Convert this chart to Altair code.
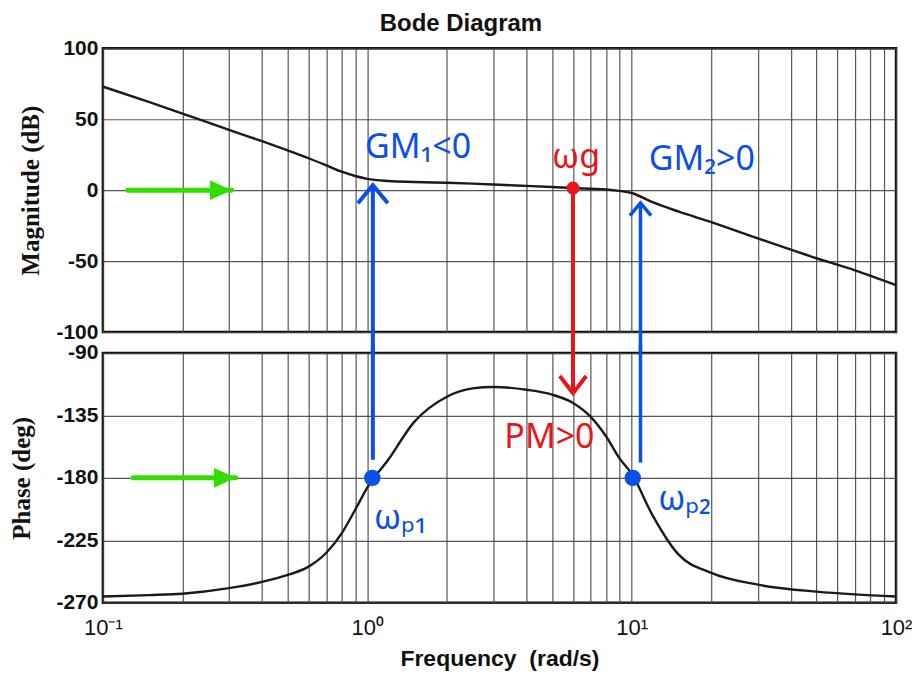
import altair as alt
import pandas as pd

# ---------------- data ----------------
freq = [0.1, 0.15, 0.2, 0.3, 0.4, 0.5, 0.6, 0.7, 0.8, 0.9, 1.0, 1.2, 1.5, 2.0,
        2.5, 3.0, 4.0, 5.0, 6.0, 7.0, 8.0, 9.0, 10.0, 12.0, 15.0, 20.0, 30.0,
        50.0, 70.0, 100.0]
mag_db = [73, 62, 54, 42.5, 34.5, 28, 22.5, 17.5, 13, 10, 8, 6.5, 5.8, 5.2,
          4.6, 4, 3, 2.2, 1.5, 1.0, 0.5, -0.5, -2, -8.5, -15, -22.5, -34,
          -48, -56.6, -67]
phase_deg = [-265.5, -264.5, -263.5, -259.5, -255, -250, -244, -234, -220,
             -203, -187, -167, -140, -121.5, -115.5, -114.5, -116.5, -120,
             -126, -136, -150, -166, -177, -207, -235, -248.5, -257, -262,
             -264, -265.5]

decade_values = [0.1, 1, 10, 100]
decade_labels = ["10\u207b\u00b9", "10\u2070", "10\u00b9", "10\u00b2"]
minor_values = [0.2, 0.3, 0.4, 0.5, 0.6, 0.7, 0.8, 0.9,
                2, 3, 4, 5, 6, 7, 8, 9,
                20, 30, 40, 50, 60, 70, 80, 90]
mag_ticks = [-100, -50, 0, 50, 100]
phase_ticks = [-270, -225, -180, -135, -90]

# annotation values
wp_freq = [1.045, 10.1]
wp_phase = [-180, -180]
wg_freq = [6.0]
wg_mag = [1.5]

arrow1_freq = [1.05]
arrow1_top_mag = [3.5]
arrow1_bottom_phase = [-167]
arrow2_freq = [10.8]
arrow2_top_mag = [-9]
arrow2_bottom_phase = [-169]
red_arrow_tip_phase = [-119]

green_top_x = [0.124, 0.307]
green_top_y = [0, 0]
green_bot_x = [0.13, 0.318]
green_bot_y = [-180, -180]

top_text = ["GM\u2081<0", "\u03c9g", "GM\u2082>0"]
top_text_x = [0.98, 5.0, 11.6]
top_text_y = [30, 23, 21]
top_text_color = ["blue", "red", "blue"]
bot_text = ["PM>0", "\u03c9\u209a\u2081", "\u03c9\u209a\u2082"]
bot_text_x = [3.3, 1.06, 12.6]
bot_text_y = [-151, -210, -196]
bot_text_color = ["red", "blue", "blue"]

BLUE = "#0a4fe6"
RED = "#e8161b"
GREEN = "#33dd00"
GAP_MAG = -116     # just below the magnitude frame (into the gap)
GAP_PHASE = -84    # just above the phase frame (into the gap)

all_x = sorted(minor_values + decade_values)
label_expr = " : ".join(
    f"datum.value == {v} ? '{l}'" for v, l in zip(decade_values, decade_labels)
) + " : ''"

x_scale = alt.Scale(type="log", domain=[0.1, 100], nice=False)
mag_scale = alt.Scale(domain=[-100, 100], nice=False, zero=False)
ph_scale = alt.Scale(domain=[-270, -90], nice=False, zero=False)

curve = pd.DataFrame({"freq": freq, "mag": mag_db, "phase": phase_deg})

W = 794
TEXT_FONT = "Noto Sans"

# ---------------- top (magnitude) ----------------
x_top = alt.X("freq:Q", scale=x_scale,
              axis=alt.Axis(values=all_x, labels=False, ticks=False,
                            domain=False, title=None, grid=True))
y_top = alt.Y("mag:Q", scale=mag_scale,
              axis=alt.Axis(values=mag_ticks, title="Magnitude (dB)",
                            labelExpr="'' + datum.value", titlePadding=12))

mag_line = alt.Chart(curve).mark_line(
    color="#1a1a1a", strokeWidth=2.4, interpolate="monotone").encode(x=x_top, y=y_top)

g1 = pd.DataFrame({"freq": green_top_x, "mag": green_top_y})
green1 = alt.Chart(g1).mark_line(color=GREEN, strokeWidth=5, strokeCap="round").encode(
    x=alt.X("freq:Q", scale=x_scale), y=alt.Y("mag:Q", scale=mag_scale))
green1_head = alt.Chart(g1.tail(1)).mark_point(
    shape="M-1,-0.45L0,0L-1,0.45Z", size=1900, filled=True, color=GREEN, opacity=1
).encode(x=alt.X("freq:Q", scale=x_scale), y=alt.Y("mag:Q", scale=mag_scale))

a1 = pd.DataFrame({"freq": arrow1_freq, "mag": arrow1_top_mag, "mag2": [GAP_MAG]})
blue1 = alt.Chart(a1).mark_rule(color=BLUE, strokeWidth=4).encode(
    x=alt.X("freq:Q", scale=x_scale), y=alt.Y("mag:Q", scale=mag_scale), y2="mag2:Q")
blue1_head = alt.Chart(a1).mark_point(
    shape="M-1,1.2L0,0L1,1.2", size=900, filled=False, color=BLUE,
    strokeWidth=4, opacity=1
).encode(x=alt.X("freq:Q", scale=x_scale), y=alt.Y("mag:Q", scale=mag_scale))

a2 = pd.DataFrame({"freq": arrow2_freq, "mag": arrow2_top_mag, "mag2": [GAP_MAG]})
blue2 = alt.Chart(a2).mark_rule(color=BLUE, strokeWidth=3.5).encode(
    x=alt.X("freq:Q", scale=x_scale), y=alt.Y("mag:Q", scale=mag_scale), y2="mag2:Q")
blue2_head = alt.Chart(a2).mark_point(
    shape="M-1,1.2L0,0L1,1.2", size=450, filled=False, color=BLUE,
    strokeWidth=3.5, opacity=1
).encode(x=alt.X("freq:Q", scale=x_scale), y=alt.Y("mag:Q", scale=mag_scale))

rg = pd.DataFrame({"freq": wg_freq, "mag": wg_mag, "mag2": [GAP_MAG]})
red1 = alt.Chart(rg).mark_rule(color=RED, strokeWidth=4).encode(
    x=alt.X("freq:Q", scale=x_scale), y=alt.Y("mag:Q", scale=mag_scale), y2="mag2:Q")
red_dot = alt.Chart(rg).mark_point(
    shape="circle", size=170, filled=True, color=RED, opacity=1
).encode(x=alt.X("freq:Q", scale=x_scale), y=alt.Y("mag:Q", scale=mag_scale))

tt = pd.DataFrame({"freq": top_text_x, "mag": top_text_y, "txt": top_text,
                   "c": top_text_color})
top_labels = alt.Chart(tt).mark_text(
    font=TEXT_FONT, fontSize=34, align="left", baseline="middle"
).encode(
    x=alt.X("freq:Q", scale=x_scale), y=alt.Y("mag:Q", scale=mag_scale),
    text="txt:N",
    color=alt.Color("c:N", scale=alt.Scale(domain=["blue", "red"], range=[BLUE, RED]),
                    legend=None))

top = alt.layer(
    mag_line, green1, green1_head, blue1, blue1_head, blue2, blue2_head,
    red1, red_dot, top_labels
).properties(width=W, height=284)

# ---------------- bottom (phase) ----------------
x_bot = alt.X("freq:Q", scale=x_scale,
              axis=alt.Axis(values=all_x, labelExpr=label_expr, ticks=False,
                            domain=False, grid=True, title="Frequency\u00a0 (rad/s)",
                            labelFontWeight="normal", labelFontSize=22,
                            labelPadding=15, labelFlush=False, labelOverlap=False,
                            titleFont="Liberation Sans", titleFontSize=23,
                            titlePadding=9))
y_bot = alt.Y("phase:Q", scale=ph_scale,
              axis=alt.Axis(values=phase_ticks, title="Phase (deg)",
                            labelExpr="'' + datum.value", titlePadding=21))

ph_line = alt.Chart(curve).mark_line(
    color="#1a1a1a", strokeWidth=2.4, interpolate="monotone").encode(x=x_bot, y=y_bot)

g2 = pd.DataFrame({"freq": green_bot_x, "phase": green_bot_y})
green2 = alt.Chart(g2).mark_line(color=GREEN, strokeWidth=5, strokeCap="round").encode(
    x=alt.X("freq:Q", scale=x_scale), y=alt.Y("phase:Q", scale=ph_scale))
green2_head = alt.Chart(g2.tail(1)).mark_point(
    shape="M-1,-0.45L0,0L-1,0.45Z", size=1900, filled=True, color=GREEN, opacity=1
).encode(x=alt.X("freq:Q", scale=x_scale), y=alt.Y("phase:Q", scale=ph_scale))

b1 = pd.DataFrame({"freq": arrow1_freq, "phase": [GAP_PHASE], "phase2": arrow1_bottom_phase})
blue1b = alt.Chart(b1).mark_rule(color=BLUE, strokeWidth=4).encode(
    x=alt.X("freq:Q", scale=x_scale), y=alt.Y("phase:Q", scale=ph_scale), y2="phase2:Q")
b2 = pd.DataFrame({"freq": arrow2_freq, "phase": [GAP_PHASE], "phase2": arrow2_bottom_phase})
blue2b = alt.Chart(b2).mark_rule(color=BLUE, strokeWidth=3.5).encode(
    x=alt.X("freq:Q", scale=x_scale), y=alt.Y("phase:Q", scale=ph_scale), y2="phase2:Q")

rb = pd.DataFrame({"freq": wg_freq, "phase": [GAP_PHASE], "phase2": red_arrow_tip_phase})
red1b = alt.Chart(rb).mark_rule(color=RED, strokeWidth=4).encode(
    x=alt.X("freq:Q", scale=x_scale), y=alt.Y("phase:Q", scale=ph_scale), y2="phase2:Q")
red_head = alt.Chart(pd.DataFrame({"freq": wg_freq, "phase": red_arrow_tip_phase})).mark_point(
    shape="M-1,-1.3L0,0L1,-1.3", size=700, filled=False, color=RED,
    strokeWidth=4, opacity=1
).encode(x=alt.X("freq:Q", scale=x_scale), y=alt.Y("phase:Q", scale=ph_scale))

wp = pd.DataFrame({"freq": wp_freq, "phase": wp_phase})
blue_dots = alt.Chart(wp).mark_point(
    shape="circle", size=270, filled=True, color=BLUE, opacity=1
).encode(x=alt.X("freq:Q", scale=x_scale), y=alt.Y("phase:Q", scale=ph_scale))

bt = pd.DataFrame({"freq": bot_text_x, "phase": bot_text_y, "txt": bot_text,
                   "c": bot_text_color})
bot_labels = alt.Chart(bt).mark_text(
    font=TEXT_FONT, fontSize=34, align="left", baseline="middle"
).encode(
    x=alt.X("freq:Q", scale=x_scale), y=alt.Y("phase:Q", scale=ph_scale),
    text="txt:N",
    color=alt.Color("c:N", scale=alt.Scale(domain=["blue", "red"], range=[BLUE, RED]),
                    legend=None))

bottom = alt.layer(
    ph_line, green2, green2_head, blue1b, blue2b, red1b, red_head,
    blue_dots, bot_labels
).properties(width=W, height=250)

chart = alt.vconcat(top, bottom, spacing=21, bounds="flush").properties(
    title=alt.TitleParams("Bode Diagram", font="Liberation Sans", fontSize=24,
                          fontWeight="bold", color="#111", anchor="middle",
                          offset=0),
    padding={"left": 0, "top": 3, "right": 0, "bottom": 0},
).configure_view(
    stroke="#111", strokeWidth=2.5
).configure_axis(
    labelFont="Liberation Sans", labelFontSize=21, labelFontWeight="bold",
    labelColor="#111", titleFont="Liberation Serif", titleFontSize=25,
    titleFontWeight="bold", titleColor="#111", gridColor="#444",
    gridWidth=1.2, gridOpacity=0.9, ticks=False, domain=False, labelPadding=5
).configure_scale(
    clamp=False
)

chart.save("out.html", embed_options={"renderer": "svg", "actions": False})
